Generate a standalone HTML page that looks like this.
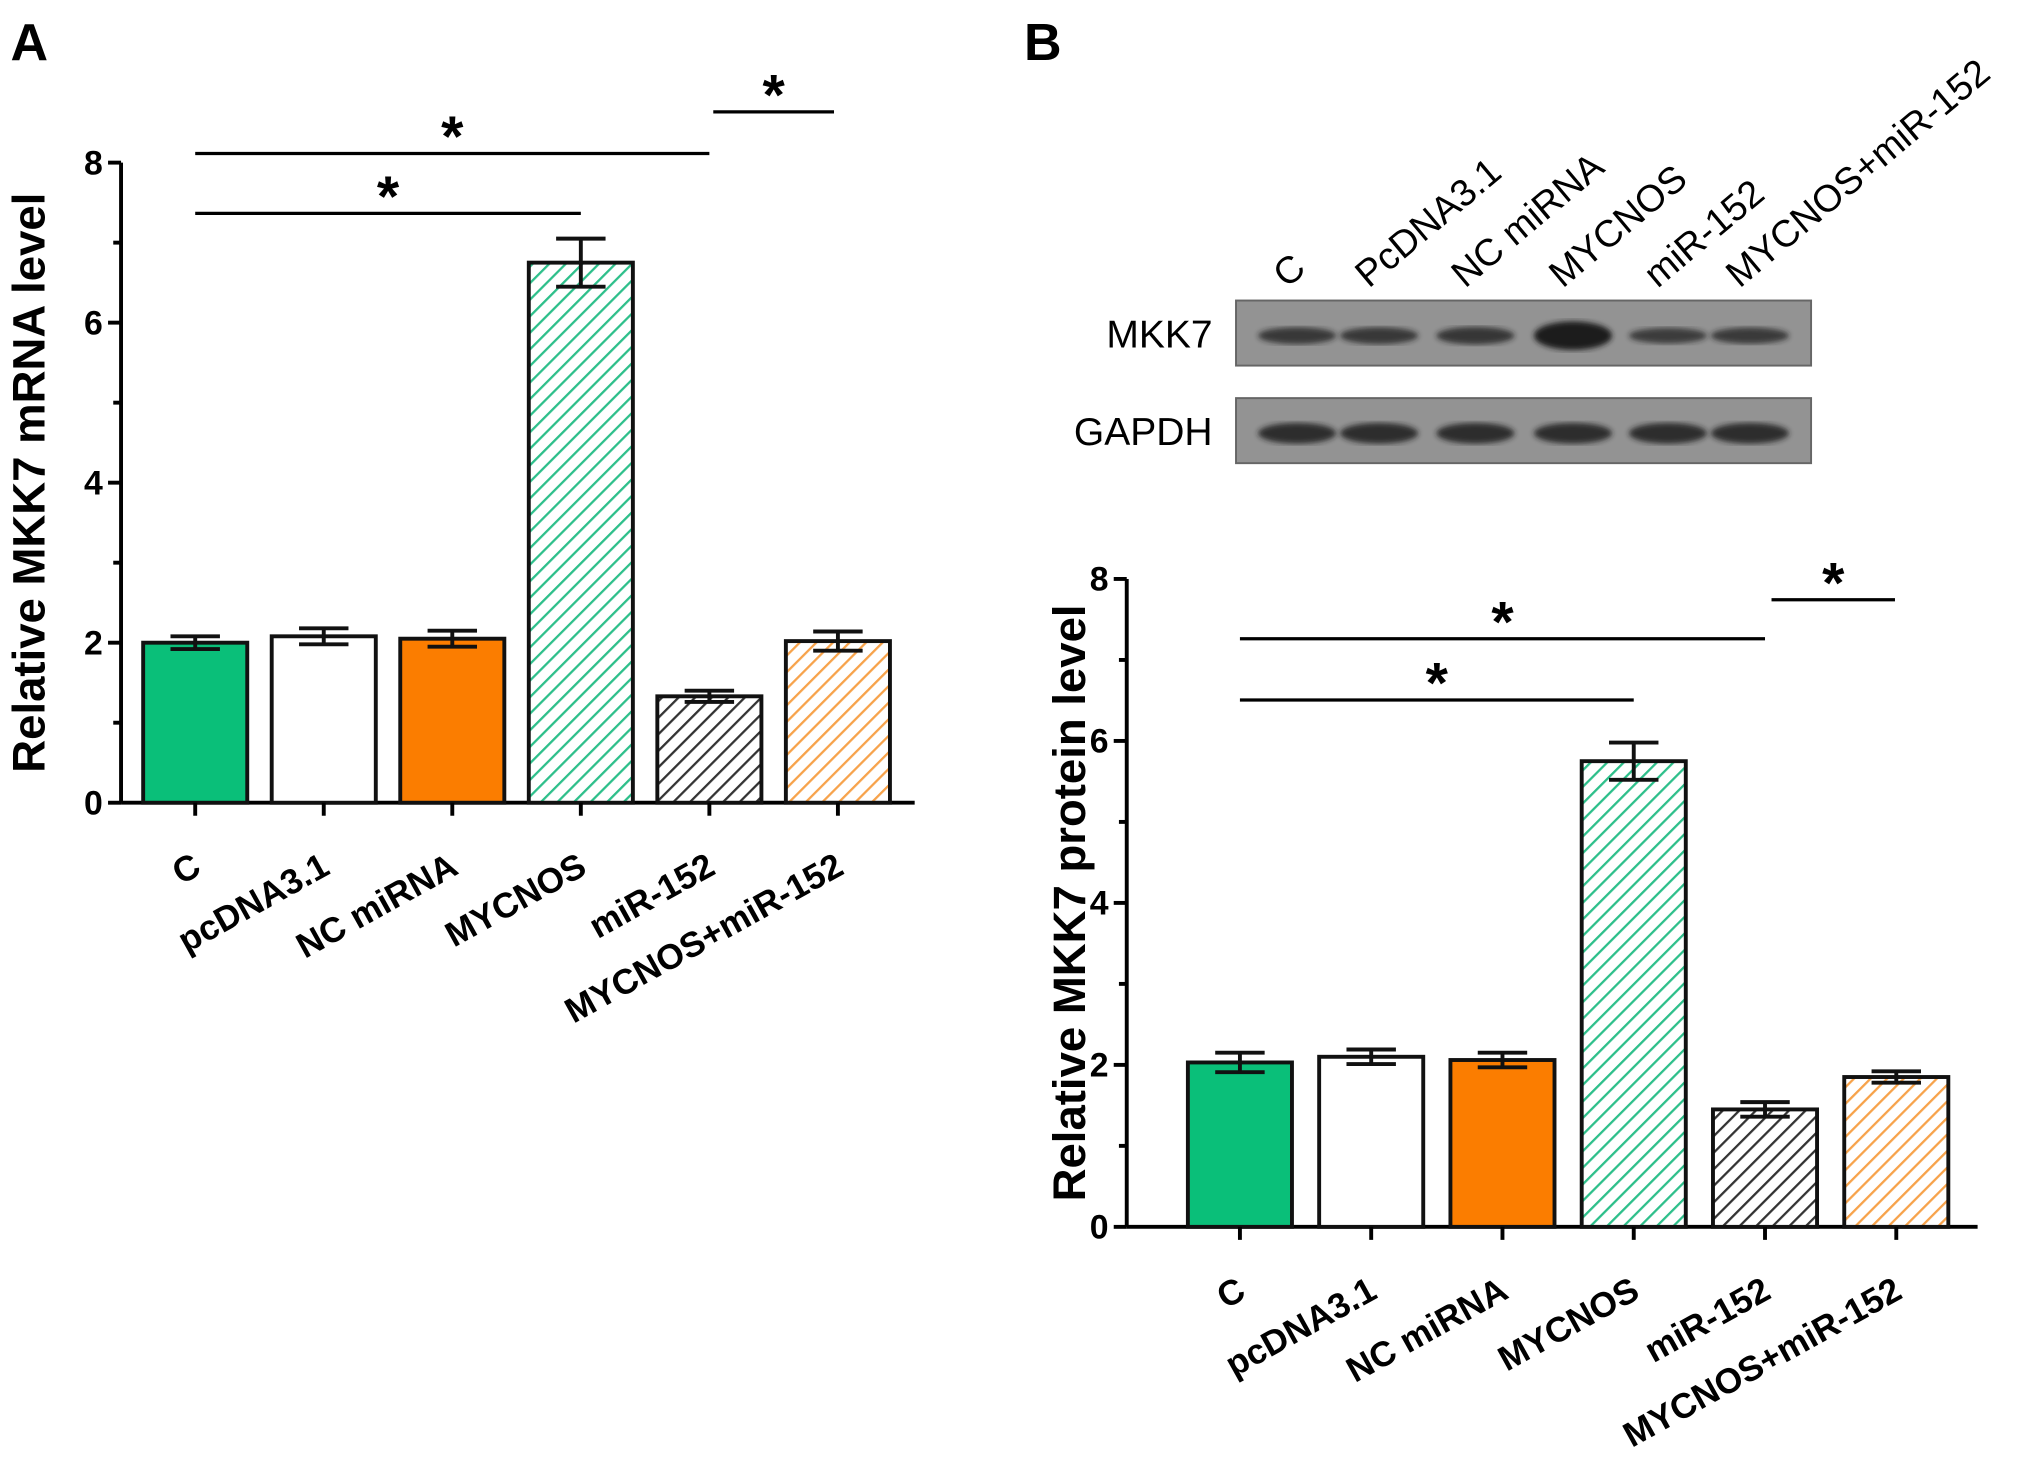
<!DOCTYPE html>
<html><head><meta charset="utf-8"><style>
html,body{margin:0;padding:0;background:#fff;}
svg{display:block;font-family:"Liberation Sans",Arial,sans-serif;}
</style></head><body>
<svg id="fig" width="2031" height="1476" viewBox="0 0 1561 1134.5" xmlns="http://www.w3.org/2000/svg">
<defs>
<pattern id="hGreen" patternUnits="userSpaceOnUse" width="9" height="9" patternTransform="rotate(45)"><rect width="9" height="9" fill="#fff"/><line x1="0" y1="0" x2="0" y2="9" stroke="#2dbf8a" stroke-width="3.5"/></pattern>
<pattern id="hBlack" patternUnits="userSpaceOnUse" width="9" height="9" patternTransform="rotate(45)"><rect width="9" height="9" fill="#fff"/><line x1="0" y1="0" x2="0" y2="9" stroke="#333" stroke-width="3.5"/></pattern>
<pattern id="hOrange" patternUnits="userSpaceOnUse" width="9" height="9" patternTransform="rotate(45)"><rect width="9" height="9" fill="#fff"/><line x1="0" y1="0" x2="0" y2="9" stroke="#f7a24a" stroke-width="3.5"/></pattern>
<filter id="blur"><feGaussianBlur stdDeviation="2"/></filter>
</defs>
<text x="8" y="46" font-size="40" font-weight="bold">A</text>
<text x="787" y="46" font-size="40" font-weight="bold">B</text>
<g id="chartA"></g>
<g id="chartB"></g>
<g id="blot"></g>
</svg>
<script>
var categories = ["C","pcDNA3.1","NC miRNA","MYCNOS","miR-152","MYCNOS+miR-152"];
var blotLabels = ["C","PcDNA3.1","NC miRNA","MYCNOS","miR-152","MYCNOS+miR-152"];
var mrnaValues = [2.0, 2.08, 2.05, 6.75, 1.33, 2.02];
var mrnaErrors = [0.08, 0.1, 0.1, 0.3, 0.07, 0.12];
var proteinValues = [2.03, 2.1, 2.06, 5.75, 1.45, 1.85];
var proteinErrors = [0.12, 0.09, 0.09, 0.23, 0.09, 0.07];
var yTicks = [0, 2, 4, 6, 8];
var mkk7Intensity = [0.7, 0.7, 0.75, 1.6, 0.6, 0.65];
var gapdhIntensity = [1, 1, 1, 1, 1, 1];
var fills = ["#0abf79","#ffffff","#fb7d00","url(#hGreen)","url(#hBlack)","url(#hOrange)"];
var NS = "http://www.w3.org/2000/svg";
function mk(parent, tag, attrs, text){
  var e = document.createElementNS(NS, tag);
  for (var k in attrs) e.setAttribute(k, attrs[k]);
  if (text !== undefined) e.textContent = text;
  parent.appendChild(e); return e;
}
function drawChart(gid, cfg, values, errors, title, sigs){
  var g = document.getElementById(gid);
  var y = function(v){ return cfg.y0 - v * (cfg.y0 - cfg.y8) / 8; };
  var xc = function(i){ return cfg.x0 + i * cfg.step; };
  var ya = mk(g,'line',{x1:cfg.ax,y1:cfg.y8,x2:cfg.ax,y2:cfg.y0,stroke:'#000','stroke-width':3});
   
  var xa = mk(g,'line',{x1:cfg.ax,y1:cfg.y0,x2:cfg.xend,y2:cfg.y0,stroke:'#000','stroke-width':3});
   
  for (var t=0;t<=8;t++){
    mk(g,'line',{x1:cfg.ax-(t%2?6:10),y1:y(t),x2:cfg.ax,y2:y(t),stroke:'#000','stroke-width':3});
  }
  yTicks.forEach(function(v){
    var tl = mk(g,'text',{x:cfg.ax-14,y:y(v)+9,'text-anchor':'end','font-size':26,'font-weight':'bold'}, String(v));
     
  });
  var yt = mk(g,'text',{x:0,y:0,'text-anchor':'middle','font-size':35,'font-weight':'bold',transform:'translate('+cfg.titleX+','+((cfg.y0+cfg.y8)/2)+') rotate(-90)'}, title);
   
  values.forEach(function(v,i){
    var cx = xc(i), w = 80;
    var b = mk(g,'rect',{x:cx-w/2,y:y(v),width:w,height:cfg.y0-y(v),fill:fills[i],stroke:'#111','stroke-width':3});
    
    
    var e = errors[i];
    var eg = mk(g,'g',{stroke:'#111','stroke-width':3});
     
    mk(eg,'line',{x1:cx,y1:y(v+e),x2:cx,y2:y(v-e)});
    mk(eg,'line',{x1:cx-19,y1:y(v+e),x2:cx+19,y2:y(v+e)});
    mk(eg,'line',{x1:cx-19,y1:y(v-e),x2:cx+19,y2:y(v-e)});
    mk(g,'line',{x1:cx,y1:cfg.y0,x2:cx,y2:cfg.y0+10,stroke:'#000','stroke-width':3});
    var lbl = mk(g,'text',{x:0,y:0,'text-anchor':'end','font-size':27,'font-weight':'bold',transform:'translate('+(cx+6)+','+(cfg.y0+54)+') rotate(-29)'}, categories[i]);
     
  });
  sigs.forEach(function(s){
    var l = mk(g,'line',{x1:xc(s[0])+(s[3]||0),y1:s[2],x2:xc(s[1])+(s[4]||0),y2:s[2],stroke:'#000','stroke-width':2.5});
     
    var st = mk(g,'text',{x:(xc(s[0])+(s[3]||0)+xc(s[1])+(s[4]||0))/2,y:s[2]+2,'text-anchor':'middle','font-size':44,'font-weight':'bold'}, '*');
     
  });
}
drawChart('chartA',{ax:93,y0:617,y8:125,x0:150,step:98.8,xend:703,titleX:34},mrnaValues,mrnaErrors,'Relative MKK7 mRNA level',
  [[0,3,164],[0,4,118],[4,5,86,3,-3]]);
drawChart('chartB',{ax:866,y0:943,y8:445,x0:953,step:100.9,xend:1520,titleX:834},proteinValues,proteinErrors,'Relative MKK7 protein level',
  [[0,3,538],[0,4,491],[4,5,461,5,-1]]);
(function(){
  var g = document.getElementById('blot');
  var bx = [997,1060,1134,1209,1282,1345];
  [[231,'MKK7',mkk7Intensity],[306,'GAPDH',gapdhIntensity]].forEach(function(r){
    var box = mk(g,'rect',{x:950,y:r[0],width:442,height:50,fill:'#939393',stroke:'#666','stroke-width':1.5});
     
    var lt = mk(g,'text',{x:932,y:r[0]+36,'text-anchor':'end','font-size':30}, r[1]);
     
    r[2].forEach(function(v,i){
      var band = mk(g,'ellipse',{cx:bx[i],cy:r[0]+27,rx:30,ry:3+5*v,fill:'#1a1a1a',opacity:Math.min(1,0.55+0.3*v),filter:'url(#blur)'});
       
    });
  });
  blotLabels.forEach(function(s,i){
    var t = mk(g,'text',{x:0,y:0,'font-size':29,transform:'translate('+(bx[i]-8)+',222) rotate(-40)'}, s);
     
  });
})();
</script>
</body></html>
